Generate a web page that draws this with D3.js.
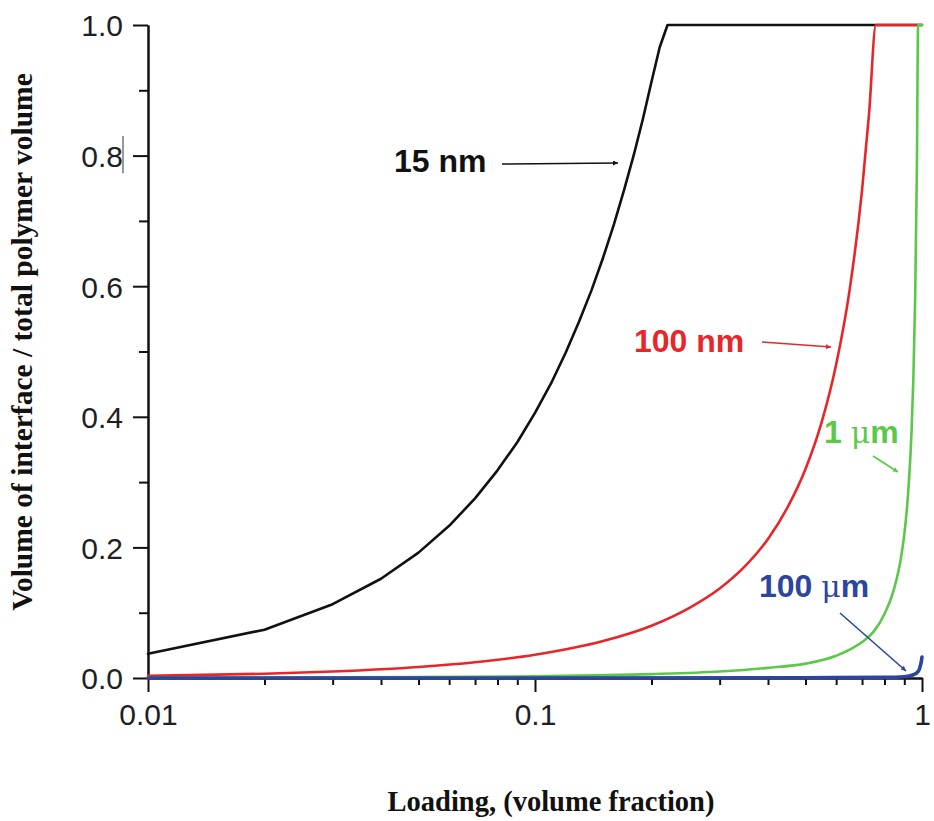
<!DOCTYPE html>
<html>
<head>
<meta charset="utf-8">
<script src="https://cdn.jsdelivr.net/npm/d3@7"></script>
<style>
  html, body { margin: 0; padding: 0; background: #fff; }
  svg { display: block; }
</style>
</head>
<body>
<svg id="chart" width="934" height="821"></svg>
<script>
// Interface volume relative to total polymer volume vs. filler loading,
// for four particle sizes.
const loading15nm = [0.01,0.02,0.03,0.04,0.05,0.06,0.07,0.08,0.09,0.10,0.11,0.12,0.13,0.14,0.15,0.16,0.17,0.18,0.19,0.20,0.21,0.22,1.0];
const interface15nm = [0.037,0.074,0.113,0.152,0.192,0.233,0.275,0.318,0.361,0.406,0.451,0.498,0.546,0.594,0.644,0.695,0.748,0.801,0.856,0.913,0.966,1.0,1.0];

const loading100nm = [0.01,0.02,0.03,0.05,0.07,0.10,0.15,0.20,0.25,0.30,0.35,0.40,0.45,0.50,0.55,0.60,0.65,0.70,0.73,0.76,1.0];
const interface100nm = [0.0032,0.0065,0.0099,0.0168,0.0241,0.0356,0.0565,0.080,0.107,0.137,0.172,0.213,0.262,0.320,0.391,0.480,0.594,0.747,0.865,1.0,1.0];

const loading1um = [0.01,0.05,0.10,0.20,0.30,0.40,0.50,0.60,0.70,0.75,0.80,0.85,0.88,0.90,0.92,0.94,0.95,0.96,0.97,0.977,1.0];
const interface1um = [0.00024,0.0013,0.0027,0.006,0.0100,0.0155,0.022,0.034,0.055,0.071,0.098,0.140,0.180,0.220,0.280,0.380,0.460,0.580,0.780,1.0,1.0];

const loading100um = [0.01,0.10,0.50,0.80,0.90,0.95,0.97,0.985,0.995,1.0];
const interface100um = [0.0,0.0001,0.0004,0.001,0.002,0.005,0.008,0.014,0.024,0.032];

const seriesNames = ["15 nm", "100 nm", "1 \u03bcm", "100 \u03bcm"];
const seriesColors = ["#111111", "#e8262a", "#5cc84a", "#2b45a0"];

const xTickValues = [0.01, 0.1, 1];
const xTickLabels = ["0.01", "0.1", "1"];
const yTickValues = [0, 0.2, 0.4, 0.6, 0.8, 1.0];
const yTickLabels = ["0.0", "0.2", "0.4", "0.6", "0.8", "1.0"];
const yMinorValues = [0.1, 0.3, 0.5, 0.7, 0.9];

const xTitle = "Loading, (volume fraction)";
const yTitle = "Volume of interface / total polymer volume";

const svg = d3.select("#chart");
const plot = { left: 148, right: 922, top: 25, bottom: 678 };

const x = d3.scaleLog().domain([0.01, 1]).range([plot.left, plot.right]);
const y = d3.scaleLinear().domain([0, 1]).range([plot.bottom, plot.top]);

const labelFont = "'Liberation Sans', Arial, Helvetica, sans-serif";
const titleFont = "'Liberation Serif', 'Times New Roman', Times, serif";

// ----- axes -----
const xMinor = [];
[0.01, 0.1].forEach(d => { for (let k = 2; k <= 9; k++) xMinor.push(d * k); });

const xAxis = d3.axisBottom(x).tickValues(xTickValues)
  .tickFormat((d, i) => xTickLabels[i]).tickSizeInner(14).tickSizeOuter(0).tickPadding(12);
const xMinorAxis = d3.axisBottom(x).tickValues(xMinor).tickFormat("").tickSizeInner(7).tickSizeOuter(0);

const yAxis = d3.axisLeft(y).tickValues(yTickValues)
  .tickFormat((d, i) => yTickLabels[i]).tickSizeInner(15).tickSizeOuter(0).tickPadding(10);
const yMinorAxis = d3.axisLeft(y).tickValues(yMinorValues).tickFormat("").tickSizeInner(9).tickSizeOuter(0);

function styleAxis(g) {
  g.select(".domain").attr("stroke", "#111").attr("stroke-width", 2);
  g.selectAll(".tick line").attr("stroke", "#111").attr("stroke-width", 2);
  g.selectAll(".tick text").attr("fill", "#1e1e26")
    .style("font-family", labelFont).style("font-size", "30px");
}

svg.append("g").attr("transform", `translate(0,${plot.bottom})`).call(xMinorAxis).call(styleAxis);
svg.append("g").attr("transform", `translate(0,${plot.bottom})`).call(xAxis).call(styleAxis)
  .selectAll(".tick text").attr("dy", "0.71em");
svg.append("g").attr("transform", `translate(${plot.left},0)`).call(yMinorAxis).call(styleAxis);
svg.append("g").attr("transform", `translate(${plot.left},0)`).call(yAxis).call(styleAxis)
  .selectAll(".tick text").attr("dy", "0.36em");

// small vertical stroke beside the 0.8 label
svg.append("line").attr("x1", 123).attr("x2", 123).attr("y1", y(0.83)).attr("y2", y(0.773))
  .attr("stroke", "#555").attr("stroke-width", 1.2);

// ----- curves -----
const seriesData = [
  d3.zip(loading15nm, interface15nm),
  d3.zip(loading100nm, interface100nm),
  d3.zip(loading1um, interface1um),
  d3.zip(loading100um, interface100um)
];
const curves = [d3.curveLinear, d3.curveMonotoneX, d3.curveMonotoneX, d3.curveMonotoneX];
const widths = [2.6, 2.6, 2.6, 3.6];

seriesData.forEach((pts, i) => {
  const line = d3.line().x(d => x(d[0])).y(d => y(d[1])).curve(curves[i]);
  svg.append("path").datum(pts)
    .attr("d", line)
    .attr("fill", "none")
    .attr("stroke", seriesColors[i])
    .attr("stroke-width", widths[i])
    .attr("stroke-linejoin", "round")
    .attr("stroke-linecap", "round");
});

// ----- labels with arrows -----
const defs = svg.append("defs");
seriesColors.forEach((c, i) => {
  defs.append("marker").attr("id", "arrow" + i)
    .attr("viewBox", "0 0 10 10").attr("refX", 10).attr("refY", 5)
    .attr("markerWidth", 8).attr("markerHeight", 5).attr("markerUnits", "userSpaceOnUse")
    .attr("orient", "auto")
    .append("path").attr("d", "M0,0 L10,5 L0,10 Z").attr("fill", c);
});

// label text start/baseline and arrow start/end, in pixels
const labelSpots = [
  { tx: 394, ty: 172, x1: 502, y1: 164, x2: 618, y2: 163 },
  { tx: 634, ty: 352, x1: 762, y1: 342, x2: 831, y2: 347 },
  { tx: 824, ty: 443, x1: 873, y1: 456, x2: 898, y2: 472 },
  { tx: 759, ty: 597, x1: 840, y1: 613, x2: 906, y2: 671 }
];

seriesNames.forEach((name, i) => {
  const s = labelSpots[i];
  const t = svg.append("text")
    .attr("x", s.tx).attr("y", s.ty)
    .attr("fill", seriesColors[i])
    .style("font-family", labelFont).style("font-size", "32px").style("font-weight", "bold");
  if (name.includes("\u03bc")) {
    const parts = name.split("\u03bc");
    t.append("tspan").text(parts[0]);
    t.append("tspan").text("\u03bc").style("font-weight", "normal")
      .style("font-family", "'DejaVu Serif', 'Liberation Serif', serif").style("font-size", "30px");
    t.append("tspan").text(parts[1]);
  } else {
    t.text(name);
  }
  svg.append("line")
    .attr("x1", s.x1).attr("y1", s.y1)
    .attr("x2", s.x2).attr("y2", s.y2)
    .attr("stroke", seriesColors[i]).attr("stroke-width", 1.6)
    .attr("marker-end", `url(#arrow${i})`);
});

// ----- axis titles -----
svg.append("text")
  .attr("x", 551).attr("y", 811)
  .attr("text-anchor", "middle")
  .style("font-family", titleFont).style("font-size", "28.5px").style("font-weight", "bold")
  .attr("fill", "#111")
  .text(xTitle);

svg.append("text")
  .attr("transform", "translate(32,342) rotate(-90)")
  .attr("text-anchor", "middle")
  .style("font-family", titleFont).style("font-size", "29.5px").style("font-weight", "bold")
  .attr("fill", "#111")
  .text(yTitle);
</script>
</body>
</html>
